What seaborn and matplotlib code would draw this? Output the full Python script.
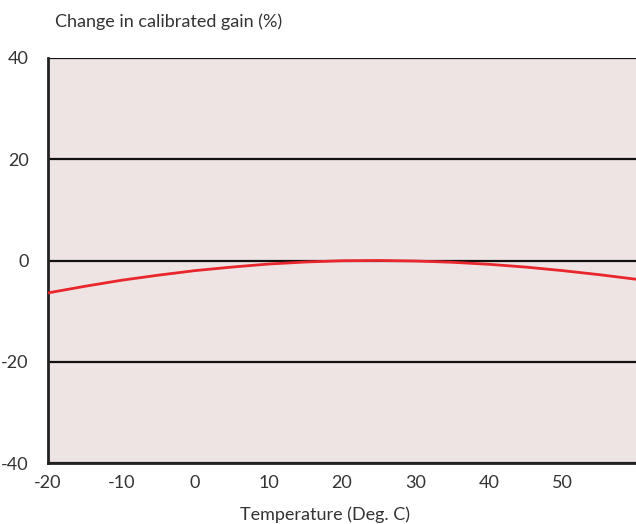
import matplotlib
matplotlib.use("Agg")
import matplotlib.pyplot as plt
import seaborn as sns
import pandas as pd

# values
temperature = [-20, -15, -10, -5, 0, 5, 10, 15, 20, 25, 30, 35, 40, 45, 50, 55, 60]
gain_change = [-6.4, -5.1, -3.9, -2.9, -2.0, -1.3, -0.7, -0.3, -0.05, 0.0, -0.1, -0.35, -0.75, -1.3, -2.0, -2.8, -3.7]
x_ticks = [-20, -10, 0, 10, 20, 30, 40, 50]
y_ticks = [-40, -20, 0, 20, 40]

df = pd.DataFrame({"temp": temperature, "gain": gain_change})

sns.set_style("white")
plt.rcParams["font.family"] = ["Lato", "DejaVu Sans"]
plt.rcParams["axes.unicode_minus"] = False

fig = plt.figure(figsize=(6.36, 5.24), dpi=100)
ax = fig.add_axes([48 / 636, 61 / 524, 1 - 48 / 636, (463 - 58) / 524])
ax.set_facecolor("#efe4e4")

for y in y_ticks:
    ax.axhline(y, color="#111111", lw=1.6, zorder=1)

sns.lineplot(data=df, x="temp", y="gain", ax=ax, color="#e8262b", lw=2, zorder=3)

ax.set_xlim(-20, 60)
ax.set_ylim(-40, 40)
ax.set_xticks(x_ticks)
ax.set_yticks(y_ticks)
ax.tick_params(length=0, labelsize=13, colors="#333333", pad=9)
ax.tick_params(axis="y", pad=14)

for s in ["top", "right"]:
    ax.spines[s].set_visible(False)
for s in ["left", "bottom"]:
    ax.spines[s].set_color("#222222")
    ax.spines[s].set_linewidth(2)

ax.set_xlabel("")
ax.set_ylabel("")
fig.text(325 / 636, 1 - 515 / 524, "Temperature (Deg. C)", fontsize=13,
         color="#333333", va="center", ha="center")
fig.text(55 / 636, 1 - 22 / 524, "Change in calibrated gain (%)", fontsize=13,
         color="#333333", va="center", ha="left")

fig.savefig("out.png", dpi=100)
